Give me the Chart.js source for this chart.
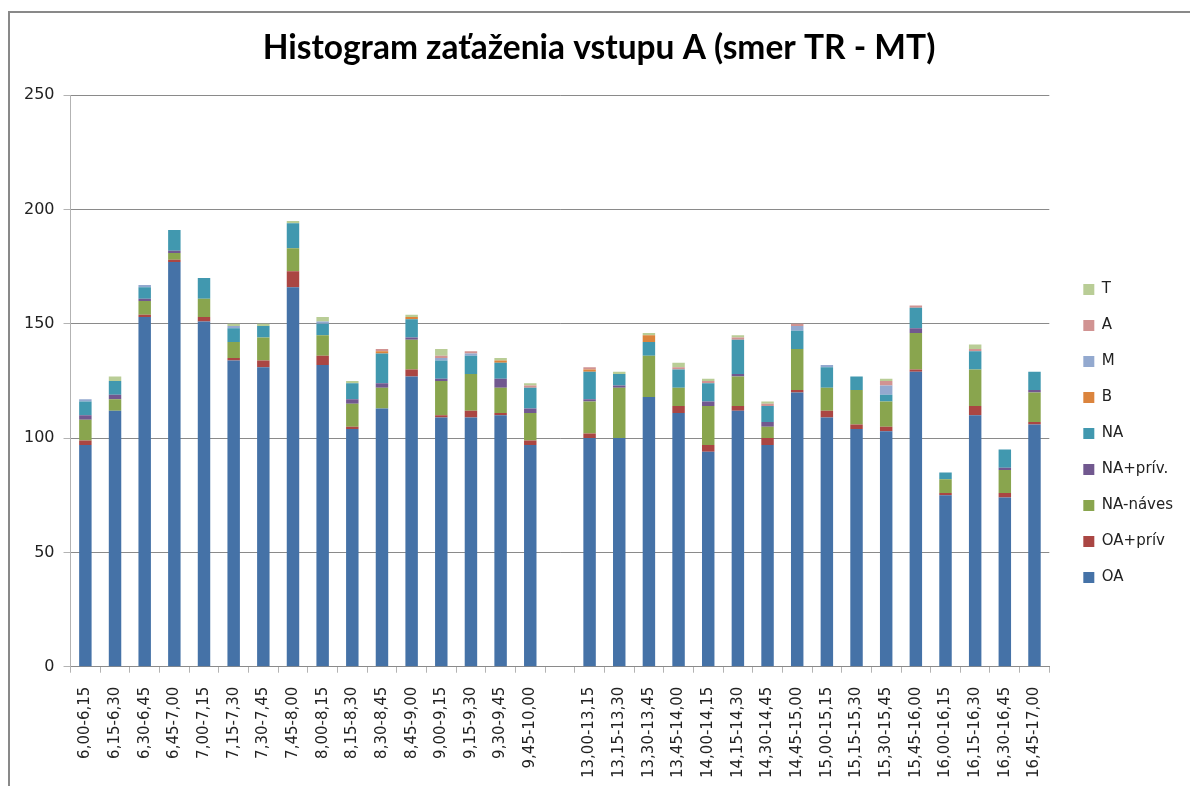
<!DOCTYPE html>
<html>
<head>
<meta charset="utf-8">
<title>Histogram zaťaženia vstupu A</title>
<script src="https://cdn.jsdelivr.net/npm/chart.js@4"></script>
<style>
    html, body { margin: 0; padding: 0; background: #fff; overflow: hidden; }
    #wrap { position: relative; width: 1190px; height: 786px; }
    #frame {
        position: absolute; left: 8px; top: 11px; right: -10px; bottom: -10px;
        border-top: 2px solid #898989; border-left: 2px solid #898989;
        pointer-events: none;
    }
</style>
</head>
<body>
<div id="wrap">
    <canvas id="histChart" width="1190" height="786"></canvas>
    <div id="frame"></div>
</div>
<script>
// Time intervals (empty slot = break between morning and afternoon)
const categories = [
    '6,00-6,15', '6,15-6,30', '6,30-6,45', '6,45-7,00', '7,00-7,15', '7,15-7,30',
    '7,30-7,45', '7,45-8,00', '8,00-8,15', '8,15-8,30', '8,30-8,45', '8,45-9,00',
    '9,00-9,15', '9,15-9,30', '9,30-9,45', '9,45-10,00', '',
    '13,00-13,15', '13,15-13,30', '13,30-13,45', '13,45-14,00', '14,00-14,15',
    '14,15-14,30', '14,30-14,45', '14,45-15,00', '15,00-15,15', '15,15-15,30',
    '15,30-15,45', '15,45-16,00', '16,00-16,15', '16,15-16,30', '16,30-16,45',
    '16,45-17,00'
];

// Vehicle counts per category
const oa =      [97, 112, 153, 177, 151, 134, 131, 166, 132, 104, 113, 127, 109, 109, 110, 97, null,
                 100, 100, 118, 111, 94, 112, 97, 120, 109, 104, 103, 129, 75, 110, 74, 106];
const oaPriv =  [2, 0, 1, 1, 2, 1, 3, 7, 4, 1, 0, 3, 1, 3, 1, 2, null,
                 2, 0, 0, 3, 3, 2, 3, 1, 3, 2, 2, 1, 1, 4, 2, 1];
const naNaves = [9, 5, 6, 3, 8, 7, 10, 10, 9, 10, 9, 13, 15, 16, 11, 12, null,
                 14, 22, 18, 8, 17, 13, 5, 18, 10, 15, 11, 16, 6, 16, 10, 13];
const naPriv =  [2, 2, 1, 1, 0, 0, 0, 0, 0, 2, 2, 1, 1, 0, 4, 2, null,
                 1, 1, 0, 0, 2, 1, 2, 0, 0, 0, 0, 2, 0, 0, 1, 1];
const na =      [6, 6, 5, 9, 9, 6, 5, 11, 5, 7, 13, 8, 8, 8, 7, 9, null,
                 12, 5, 6, 8, 8, 15, 7, 8, 9, 6, 3, 9, 3, 8, 8, 8];
const bus =     [0, 0, 0, 0, 0, 0, 0, 0, 0, 0, 1, 1, 0, 0, 1, 0, null,
                 1, 0, 3, 0, 0, 0, 0, 0, 0, 0, 0, 0, 0, 0, 0, 0];
const moto =    [1, 0, 1, 0, 0, 1, 0, 0, 1, 0, 0, 0, 1, 1, 0, 0, null,
                 0, 0, 0, 0, 0, 0, 0, 2, 1, 0, 4, 0, 0, 0, 0, 0];
const artic =   [0, 0, 0, 0, 0, 0, 0, 0, 0, 0, 1, 0, 1, 1, 0, 1, null,
                 1, 0, 0, 1, 1, 1, 1, 1, 0, 0, 2, 1, 0, 1, 0, 0];
const tractor = [0, 2, 0, 0, 0, 1, 1, 1, 2, 1, 0, 1, 3, 0, 1, 1, null,
                 0, 1, 1, 2, 1, 1, 1, 0, 0, 0, 1, 0, 0, 2, 0, 0];

// Axis ticks
const yTicks = [0, 50, 100, 150, 200, 250];

const seriesNames = ['OA', 'OA+prív', 'NA-náves', 'NA+prív.', 'NA', 'B', 'M', 'A', 'T'];
const seriesColors = ['#4572A7', '#AA4643', '#89A54E', '#71588F', '#4198AF',
                      '#DB843D', '#93A9CF', '#D19392', '#B9CD96'];
const seriesData = [oa, oaPriv, naNaves, naPriv, na, bus, moto, artic, tractor];

const gridGray = '#8a8a8a';
const axisGray = '#b3b3b3';

const buildChart = () => {
    const ctx = document.getElementById('histChart').getContext('2d');

    const datasets = seriesNames.map((name, i) => ({
        label: name,
        data: seriesData[i],
        backgroundColor: seriesColors[i],
        borderWidth: 0,
        barPercentage: 0.42,
        categoryPercentage: 1.0
    }));

    new Chart(ctx, {
        type: 'bar',
        data: { labels: categories, datasets },
        options: {
            responsive: false,
            animation: false,
            layout: { padding: { left: 15, right: 7, top: 0, bottom: -6 } },
            plugins: {
                title: {
                    display: true,
                    text: 'Histogram zaťaženia vstupu A (smer TR - MT)',
                    color: '#000',
                    font: { family: 'Lato', size: 33.5, weight: 'bold' },
                    padding: { top: 28, bottom: 27 }
                },
                legend: {
                    position: 'right',
                    reverse: true,
                    title: {
                        display: true,
                        text: ' ',
                        font: { size: 10 },
                        padding: { top: 63, bottom: 0 }
                    },
                    labels: {
                        boxWidth: 11,
                        boxHeight: 11,
                        padding: 21,
                        color: '#222',
                        font: { family: 'DejaVu Sans', size: 15 }
                    }
                },
                tooltip: { enabled: false }
            },
            scales: {
                x: {
                    stacked: true,
                    border: { color: gridGray },
                    grid: {
                        offset: true,
                        drawOnChartArea: false,
                        drawTicks: true,
                        tickLength: 6,
                        color: axisGray
                    },
                    ticks: {
                        autoSkip: false,
                        maxRotation: 90,
                        minRotation: 90,
                        padding: 14,
                        color: '#222',
                        font: { family: 'DejaVu Sans', size: 15 }
                    }
                },
                y: {
                    stacked: true,
                    min: 0,
                    max: 250,
                    border: { color: axisGray },
                    grid: {
                        color: gridGray,
                        tickLength: 7,
                        tickColor: axisGray
                    },
                    afterBuildTicks: (scale) => {
                        scale.ticks = yTicks.map(v => ({ value: v }));
                    },
                    ticks: {
                        padding: 9,
                        color: '#222',
                        font: { family: 'DejaVu Sans', size: 16 }
                    }
                },
                gap: {
                    position: 'right',
                    display: true,
                    grid: { display: false },
                    border: { display: false },
                    ticks: { display: false },
                    afterFit: (scale) => { scale.width = 13; }
                }
            }
        }
    });
};

document.addEventListener('DOMContentLoaded', buildChart);
</script>
</body>
</html>
